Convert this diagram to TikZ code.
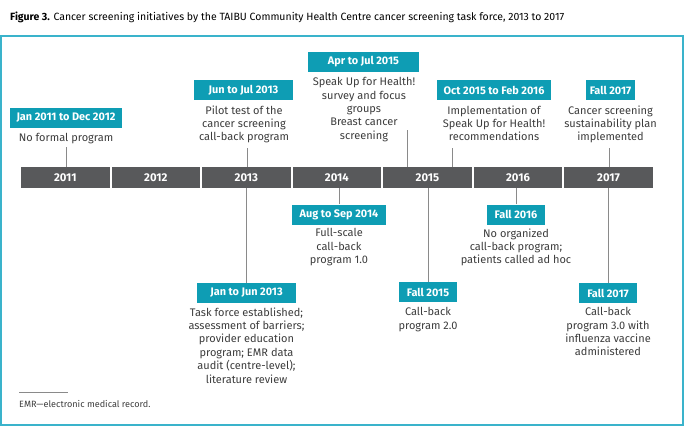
\documentclass[tikz,border=0pt]{standalone}
\usepackage{fontspec}
\setmainfont{Fira Sans}
\definecolor{frameteal}{HTML}{3AB3CB}
\definecolor{boxteal}{HTML}{0E9DB4}
\definecolor{bargray}{HTML}{58595B}
\definecolor{txtgray}{HTML}{3C3C3C}
\definecolor{linegray}{HTML}{8A8A8A}
\tikzset{
  yearseg/.style={fill=bargray, minimum width=88.5pt, minimum height=21pt, inner sep=0pt, text=white, font=\fontsize{11.3}{13}\selectfont\bfseries},
  datebox/.style={fill=boxteal, minimum height=20pt, inner xsep=2pt, inner ysep=0pt, text=white, font=\fontsize{10.9}{12}\selectfont\bfseries},
  desc/.style={align=center, text=txtgray, inner sep=0pt, anchor=north, font=\fontsize{11}{13.4}\selectfont},
  tick/.style={draw=linegray, line width=0.8pt}
}
\begin{document}
\begin{tikzpicture}[x=1pt,y=-1pt]
\useasboundingbox (0,0) rectangle (684,426);
% title
\node[anchor=west, inner sep=0pt, text=black, font=\fontsize{10.5}{12}\selectfont] (title) at (10,17) {\textbf{Figure 3.} Cancer screening initiatives by the TAIBU Community Health Centre cancer screening task force, 2013 to 2017};
% frame
\draw[frameteal, line width=2pt] (1,36) rectangle (683,425);
% timeline
\foreach \y [count=\i from 0] in {2011,...,2017}{
  \node[yearseg] (y\y) at ({21+44.25+90.55*\i},177.5) {\y};
}
% top events
\node[datebox, minimum width=112pt] (b1) at (66,118) {Jan 2011 to Dec 2012};
\node[desc] (d1) at (66,133.3) {No formal program};
\coordinate (t1) at (66,147);
\draw[tick] (t1) -- (t1 |- y2011.north);

\node[datebox, minimum width=99pt] (b2) at (243.5,90) {Jun to Jul 2013};
\node[desc] (d2) at (244,105.3) {Pilot test of the\\cancer screening\\call-back program};
\coordinate (t2) at (247,148);
\draw[tick] (t2) -- (t2 |- y2013.north);

\node[datebox, minimum width=111pt] (b3) at (363.5,62) {Apr to Jul 2015};
\node[desc] (d3) at (364,77.3) {Speak Up for Health!\\survey and focus\\groups\\Breast cancer\\screening};
\coordinate (t3) at (407,130);
\draw[tick] (t3) -- (t3 |- y2015.north);

\node[datebox, minimum width=114pt] (b4) at (494,90) {Oct 2015 to Feb 2016};
\node[desc] (d4) at (494,105.3) {Implementation of\\Speak Up for Health!\\recommendations};
\coordinate (t4) at (452,148);
\draw[tick] (t4) -- (t4 |- y2015.north);

\node[datebox, minimum width=49pt] (b5) at (610.5,90) {Fall 2017};
\node[desc] (d5) at (610.5,105.3) {Cancer screening\\sustainability plan\\implemented};
\coordinate (t5) at (609,148);
\draw[tick] (t5) -- (t5 |- y2017.north);

% bottom events
\node[datebox, minimum width=94pt] (b6) at (339,214.5) {Aug to Sep 2014};
\node[desc] (d6) at (339,228.3) {Full-scale\\call-back\\program 1.0};
\draw[tick] (b6.north) -- (b6.north |- y2014.south);

\node[datebox, minimum width=99pt] (b7) at (246.5,293) {Jan to Jun 2013};
\node[desc] (d7) at (246.5,307.3) {Task force established;\\assessment of barriers;\\provider education\\program; EMR data\\audit (centre-level);\\literature review};
\draw[tick] (b7.north) -- (b7.north |- y2013.south);

\node[datebox, minimum width=58pt] (b8) at (428,292) {Fall 2015};
\node[desc] (d8) at (428,307.3) {Call-back\\program 2.0};
\draw[tick] (b8.north) -- (b8.north |- y2015.south);

\node[datebox, minimum width=58pt] (b9) at (516,214.5) {Fall 2016};
\node[desc] (d9) at (516,228.3) {No organized\\call-back program;\\patients called ad hoc};
\draw[tick] (b9.north) -- (b9.north |- y2016.south);

\node[datebox, minimum width=58pt] (b10) at (608,293) {Fall 2017};
\node[desc] (d10) at (608,307.3) {Call-back\\program 3.0 with\\influenza vaccine\\administered};
\draw[tick] (b10.north) -- (b10.north |- y2017.south);

% footnote
\coordinate (f1) at (19,392);
\coordinate (f2) at (68,392);
\draw[linegray, line width=0.5pt] (f1) -- (f2);
\node[anchor=west, inner sep=0pt, text=txtgray, font=\fontsize{9.1}{10}\selectfont] (fn) at (19,403.5) {EMR—electronic medical record.};
\end{tikzpicture}
\end{document}
